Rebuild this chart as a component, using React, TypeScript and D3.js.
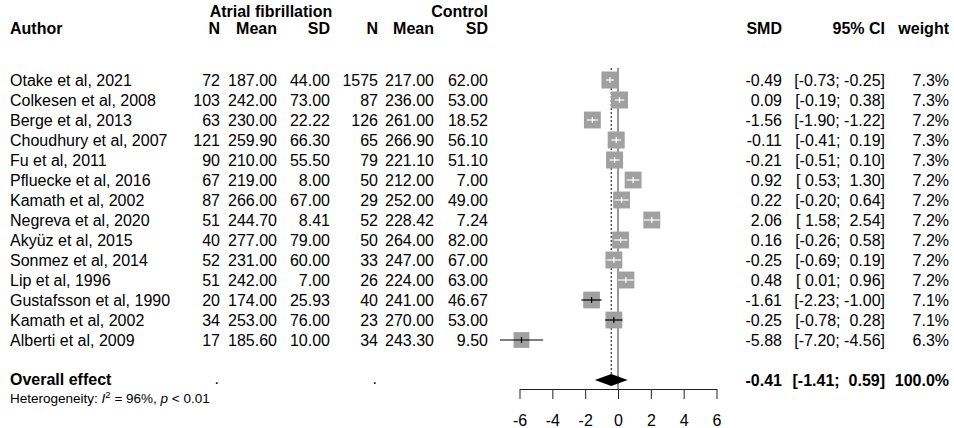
import React, { useEffect, useRef } from 'react';
import * as d3 from 'd3';

const authors = [
  'Otake et al, 2021',
  'Colkesen et al, 2008',
  'Berge et al, 2013',
  'Choudhury et al, 2007',
  'Fu et al, 2011',
  'Pfluecke et al, 2016',
  'Kamath et al, 2002',
  'Negreva et al, 2020',
  'Akyüz et al, 2015',
  'Sonmez et al, 2014',
  'Lip et al, 1996',
  'Gustafsson et al, 1990',
  'Kamath et al, 2002',
  'Alberti et al, 2009'
];
const afN = [72, 103, 63, 121, 90, 67, 87, 51, 40, 52, 51, 20, 34, 17];
const afMean = [187.0, 242.0, 230.0, 259.9, 210.0, 219.0, 266.0, 244.7, 277.0, 231.0, 242.0, 174.0, 253.0, 185.6];
const afSD = [44.0, 73.0, 22.22, 66.3, 55.5, 8.0, 67.0, 8.41, 79.0, 60.0, 7.0, 25.93, 76.0, 10.0];
const ctN = [1575, 87, 126, 65, 79, 50, 29, 52, 50, 33, 26, 40, 23, 34];
const ctMean = [217.0, 236.0, 261.0, 266.9, 221.1, 212.0, 252.0, 228.42, 264.0, 247.0, 224.0, 241.0, 270.0, 243.3];
const ctSD = [62.0, 53.0, 18.52, 56.1, 51.1, 7.0, 49.0, 7.24, 82.0, 67.0, 63.0, 46.67, 53.0, 9.5];
const smd = [-0.49, 0.09, -1.56, -0.11, -0.21, 0.92, 0.22, 2.06, 0.16, -0.25, 0.48, -1.61, -0.25, -5.88];
const lower = [-0.73, -0.19, -1.9, -0.41, -0.51, 0.53, -0.2, 1.58, -0.26, -0.69, 0.01, -2.23, -0.78, -7.2];
const upper = [-0.25, 0.38, -1.22, 0.19, 0.1, 1.3, 0.64, 2.54, 0.58, 0.19, 0.96, -1.0, 0.28, -4.56];
const weight = [7.3, 7.3, 7.2, 7.3, 7.3, 7.2, 7.2, 7.2, 7.2, 7.2, 7.2, 7.1, 7.1, 6.3];

const overall = { smd: -0.41, lower: -1.41, upper: 0.59, weight: 100.0 };
const xTicks = [-6, -4, -2, 0, 2, 4, 6];

const W = 954;
const H = 428;
const FONT = "'Liberation Sans', Arial, sans-serif";
const FS = 16;

// right edges of the table columns
const col = { nAF: 220, meanAF: 277, sdAF: 330, nC: 378, meanC: 434, sdC: 488, smd: 782, ci: 885, w: 949 };

const f2 = (v: number) => v.toFixed(2);
const pad = (v: number) => (v < 0 ? f2(v) : ' ' + f2(v));
const ciText = (lo: number, hi: number) => `[${pad(lo)}; ${pad(hi)}]`;

export default function App() {
  const axisRef = useRef<SVGGElement>(null);

  const x = d3.scaleLinear().domain([-6, 6]).range([519.5, 716.5]);
  const y = d3.scaleLinear().domain([0, authors.length - 1]).range([80, 340]);
  const yOverall = 380;
  const yAxis = 389;
  const boxScale = d3.scaleSqrt().domain([0, 7.3]).range([0, 17]);

  useEffect(() => {
    const g = d3.select(axisRef.current);
    g.selectAll('*').remove();
    g.call(
      d3.axisBottom(x).tickValues(xTicks).tickSize(10).tickSizeOuter(0).tickPadding(16).tickFormat(d => String(d))
    );
    g.select('.domain').attr('stroke', '#222');
    g.selectAll('.tick line').attr('stroke', '#222');
    g.selectAll('.tick text').attr('font-size', FS).attr('font-family', FONT).attr('fill', '#000');
  }, []);

  const cell = (txt: string, xx: number, yy: number, anchor = 'end', bold = false) => (
    <text x={xx} y={yy} dy="0.35em" textAnchor={anchor} fontWeight={bold ? 'bold' : 'normal'} style={{ whiteSpace: 'pre' }}>
      {txt}
    </text>
  );

  return (
    <svg width={W} height={H} style={{ display: 'block', position: 'absolute', left: 0, top: 0 }} fontFamily={FONT} fontSize={FS}>
      <rect width={W} height={H} fill="#fff" />
      {/* headers */}
      {cell('Atrial fibrillation', 271, 11, 'middle', true)}
      {cell('Control', col.sdC, 11, 'end', true)}
      {cell('Author', 10, 28, 'start', true)}
      {cell('N', col.nAF, 28, 'end', true)}
      {cell('Mean', col.meanAF, 28, 'end', true)}
      {cell('SD', col.sdAF, 28, 'end', true)}
      {cell('N', col.nC, 28, 'end', true)}
      {cell('Mean', col.meanC, 28, 'end', true)}
      {cell('SD', col.sdC, 28, 'end', true)}
      {cell('SMD', col.smd, 28, 'end', true)}
      {cell('95% CI', col.ci, 28, 'end', true)}
      {cell('weight', col.w, 28, 'end', true)}

      {/* reference lines */}
      <line x1={x(0)} x2={x(0)} y1={68} y2={yAxis} stroke="#555" strokeWidth={1.2} />
      <line x1={x(overall.smd)} x2={x(overall.smd)} y1={68} y2={yOverall - 6} stroke="#333" strokeWidth={1.2} strokeDasharray="2,2" />

      {authors.map((a, i) => {
        const yy = y(i);
        const s = boxScale(weight[i]);
        const inside = x(upper[i]) - x(lower[i]) <= s;
        const c = inside ? '#fff' : '#000';
        return (
          <g key={i}>
            {cell(a, 10, yy, 'start')}
            {cell(String(afN[i]), col.nAF, yy)}
            {cell(f2(afMean[i]), col.meanAF, yy)}
            {cell(f2(afSD[i]), col.sdAF, yy)}
            {cell(String(ctN[i]), col.nC, yy)}
            {cell(f2(ctMean[i]), col.meanC, yy)}
            {cell(f2(ctSD[i]), col.sdC, yy)}
            {cell(f2(smd[i]), col.smd, yy)}
            {cell(ciText(lower[i], upper[i]), col.ci, yy)}
            {cell(weight[i].toFixed(1) + '%', col.w, yy)}
            <rect x={x(smd[i]) - s / 2} y={yy - s / 2} width={s} height={s} fill="#a0a0a0" />
            <line x1={x(lower[i])} x2={x(upper[i])} y1={yy} y2={yy} stroke={c} strokeWidth={1.2} />
            <line x1={x(smd[i])} x2={x(smd[i])} y1={yy - 3} y2={yy + 3} stroke={c} strokeWidth={1.2} />
          </g>
        );
      })}

      {/* overall */}
      {cell('Overall effect', 10, yOverall - 1, 'start', true)}
      {cell('.', col.nAF - 1, yOverall - 2)}
      {cell('.', col.nC - 1, yOverall - 2)}
      {cell(f2(overall.smd), col.smd, yOverall, 'end', true)}
      {cell(ciText(overall.lower, overall.upper), col.ci, yOverall, 'end', true)}
      {cell(overall.weight.toFixed(1) + '%', col.w, yOverall, 'end', true)}
      <path
        d={`M${x(overall.lower)},${yOverall}L${x(overall.smd)},${yOverall - 6}L${x(overall.upper)},${yOverall}L${x(overall.smd)},${yOverall + 6}Z`}
        fill="#000"
      />
      <text x={10} y={398} dy="0.35em" fontSize={13.5}>
        Heterogeneity: <tspan fontStyle="italic">I</tspan>
        <tspan dy={-5} fontSize={9.5}>2</tspan>
        <tspan dy={5}> = 96%, </tspan>
        <tspan fontStyle="italic">p</tspan> &lt; 0.01
      </text>

      <g ref={axisRef} transform={`translate(0,${yAxis})`} />
    </svg>
  );
}
